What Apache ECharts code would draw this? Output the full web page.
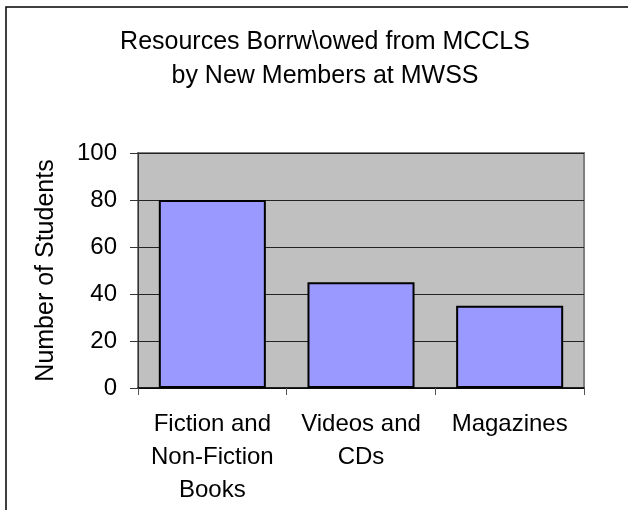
<!DOCTYPE html>
<html>
<head>
<meta charset="utf-8" />
<title>Resources Borrowed</title>
<script type="text/javascript" src="https://cdn.jsdelivr.net/npm/echarts@6/dist/echarts.min.js"></script>
<style>
  html, body { margin: 0; padding: 0; background: #fff; }
  #chart { width: 628px; height: 510px; }
</style>
</head>
<body>
<div id="chart"></div>
<script type="text/javascript">
  // data
  var categories = ['Fiction and\nNon-Fiction\nBooks', 'Videos and\nCDs', 'Magazines'];
  var students = [80, 45, 35];
  var yTicks = { min: 0, max: 100, interval: 20 };

  var font = 'Liberation Sans, Arial, sans-serif';
  var chart = echarts.init(document.getElementById('chart'));

  var option = {
    backgroundColor: '#ffffff',
    animation: false,
    title: {
      text: 'Resources Borrw\\owed from MCCLS\nby New Members at MWSS',
      left: 320,
      textAlign: 'center',
      top: 20,
      textStyle: {
        fontFamily: font,
        fontSize: 25,
        fontWeight: 'normal',
        color: '#000',
        lineHeight: 34
      }
    },
    graphic: [{
      type: 'rect',
      shape: { x: 6, y: 7, width: 700, height: 600 },
      style: { fill: 'none', stroke: '#000', lineWidth: 1.5 },
      silent: true
    }],
    grid: {
      left: 138,
      right: 44,
      top: 153,
      bottom: 122,
      show: true,
      backgroundColor: '#c0c0c0',
      borderColor: '#808080',
      borderWidth: 2
    },
    xAxis: {
      type: 'category',
      data: categories,
      axisLine: { lineStyle: { color: '#000', width: 1.5 } },
      axisTick: { show: true, length: 7, lineStyle: { color: '#555' } },
      axisLabel: {
        fontFamily: font,
        fontSize: 24,
        color: '#000',
        margin: 20,
        lineHeight: 33,
        interval: 0
      }
    },
    yAxis: {
      type: 'value',
      min: yTicks.min,
      max: yTicks.max,
      interval: yTicks.interval,
      name: 'Number of Students',
      nameLocation: 'middle',
      nameGap: 79,
      nameTextStyle: { fontFamily: font, fontSize: 25, color: '#000' },
      axisLine: { show: true, lineStyle: { color: '#333', width: 1 } },
      axisTick: { show: true, length: 8, lineStyle: { color: '#333' } },
      axisLabel: { fontFamily: font, fontSize: 24, color: '#000', margin: 21 },
      splitLine: { show: true, lineStyle: { color: '#222', width: 1 } }
    },
    series: [{
      type: 'bar',
      data: students,
      barCategoryGap: '28%',
      itemStyle: {
        color: '#9999ff',
        borderColor: '#000',
        borderWidth: 2
      }
    }]
  };

  chart.setOption(option);
</script>
</body>
</html>
